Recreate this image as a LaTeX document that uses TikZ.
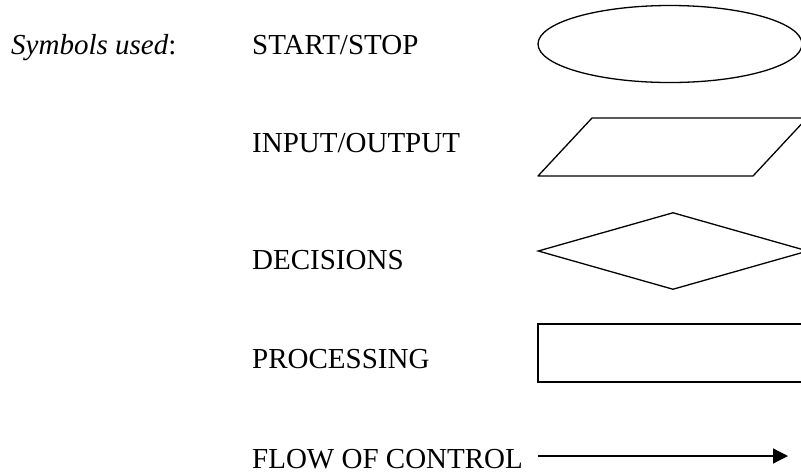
\documentclass[tikz,border=0pt]{standalone}
\usepackage{fontspec}
\setmainfont{Liberation Serif}
\usepackage{tikz}
\usetikzlibrary{shapes.geometric}
\usetikzlibrary{arrows.meta}

\tikzset{
  label text/.style={anchor=base west, inner sep=0pt, font=\fontsize{29}{34}\selectfont},
  symbol/.style={draw, line width=1.3pt, inner sep=0pt}
}

\begin{document}
\begin{tikzpicture}[x=1pt, y=-1pt]
\useasboundingbox (0,0) rectangle (801,475);
% texts
\node [label text] (title) at (11,54) {\textit{Symbols used}:};
\node [label text] (startstop) at (252,54) {START/STOP};
\node [label text] (inout) at (252,152) {INPUT/OUTPUT};
\node [label text] (decide) at (252,269) {DECISIONS};
\node [label text] (process) at (252,368) {PROCESSING};
\node [label text] (flow) at (252,468) {FLOW OF CONTROL};
% symbols
\node [symbol, ellipse, minimum width=264pt, minimum height=77pt]
       (term) at (670,44) {};
\draw [line width=1.3pt, line join=round] (538,176) -- (753,176) -- (807,118) -- (592,118) -- cycle;
\node [symbol, diamond, aspect=3.5, minimum width=270pt, minimum height=77pt]
       (cond) at (673,251) {};
\node [symbol, rectangle, minimum width=270pt, minimum height=58pt]
       (proc) at (673,353) {};
\coordinate (flowstart) at (538,456);
\coordinate (flowend) at (788,456);
\draw [line width=1.3pt, -{Triangle[length=15pt, width=15pt]}] (flowstart) -- (flowend);
\end{tikzpicture}
\end{document}
